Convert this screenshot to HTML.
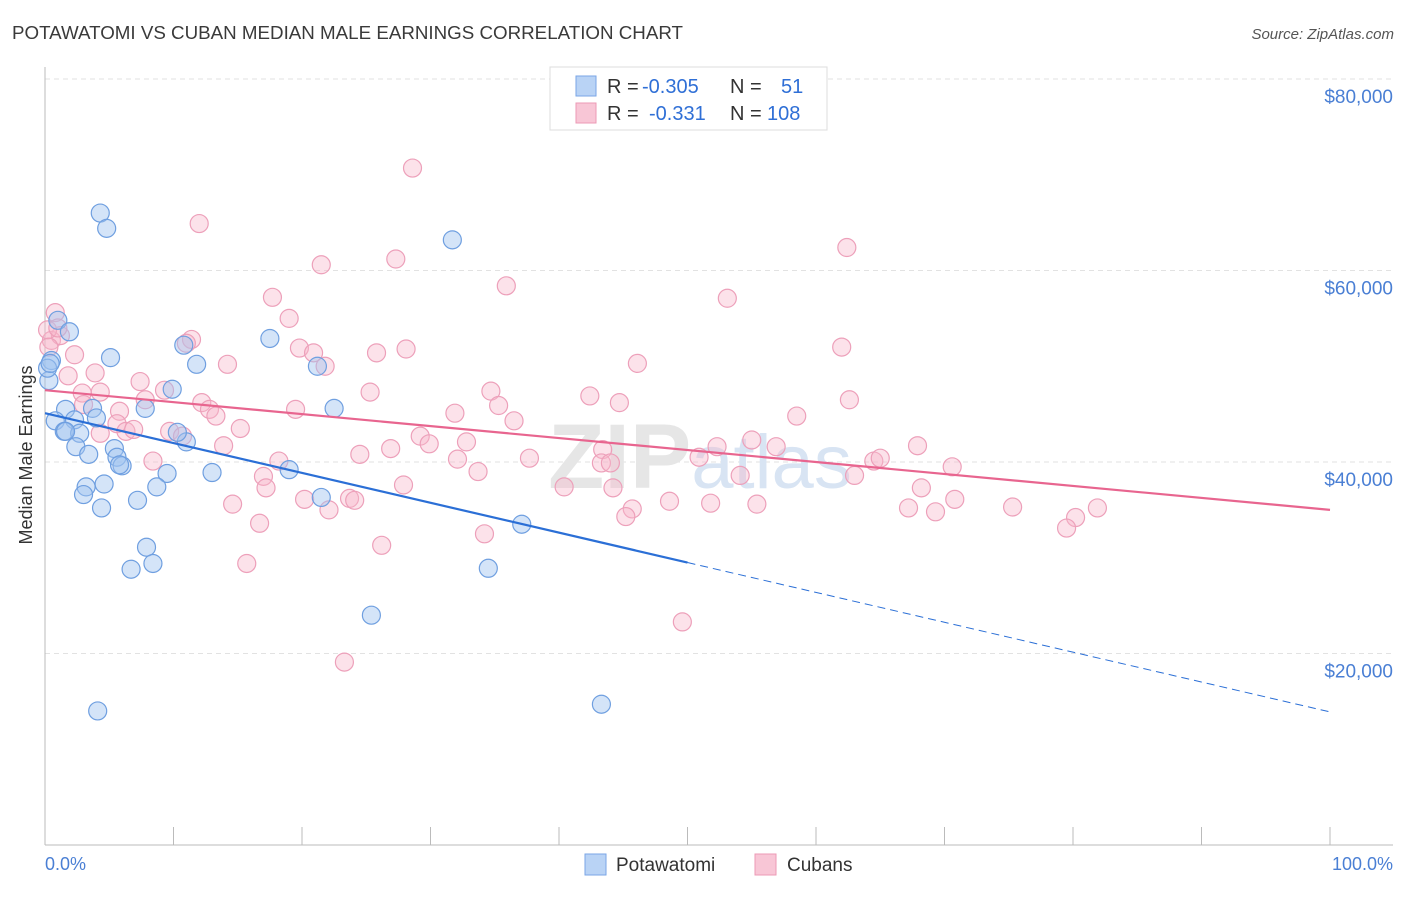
<!DOCTYPE html>
<html><head><meta charset="utf-8"><style>
body{margin:0;background:#fff;font-family:"Liberation Sans",sans-serif}
svg text{font-family:"Liberation Sans",sans-serif}
</style></head><body>
<svg id="chart" width="1406" height="892" viewBox="0 0 1406 892" xmlns="http://www.w3.org/2000/svg">
<text x="12" y="39" font-size="18.5" fill="#3a3a3a" textLength="671" lengthAdjust="spacingAndGlyphs">POTAWATOMI VS CUBAN MEDIAN MALE EARNINGS CORRELATION CHART</text>
<text x="1394" y="39" font-size="15" fill="#555" text-anchor="end" font-style="italic">Source: ZipAtlas.com</text>
<g id="grid"></g>
<text x="700" y="488" font-size="92" fill="#e6e6e6" text-anchor="middle" font-weight="bold">ZIP<tspan font-weight="normal" fill="#d8e4f3" font-size="76">atlas</tspan></text>
<g id="axes"></g>
<g id="pink"></g>
<g id="blue"></g>
<g id="trends"></g>
<text x="32" y="455" font-size="18" fill="#333" text-anchor="middle" transform="rotate(-90 32 455)">Median Male Earnings</text>
<text x="45" y="870" font-size="18" fill="#4a7fd4">0.0%</text>
<text x="1393" y="870" font-size="18" fill="#4a7fd4" text-anchor="end">100.0%</text>
<g>
<rect x="550" y="67" width="277" height="63" fill="#fff" stroke="#ddd"/>
<rect x="576" y="76" width="20" height="20" fill="#b9d3f5" stroke="#7aa6e6"/>
<rect x="576" y="103" width="20" height="20" fill="#f8c6d6" stroke="#ec9ab5"/>
<text x="607" y="93" font-size="20" fill="#333">R = <tspan x="642" fill="#2f6fd6">-0.305</tspan><tspan x="730">N = </tspan><tspan x="781" fill="#2f6fd6">51</tspan></text>
<text x="607" y="120" font-size="20" fill="#333">R = <tspan x="649" fill="#2f6fd6">-0.331</tspan><tspan x="730">N = </tspan><tspan x="767" fill="#2f6fd6">108</tspan></text>
</g>
<g>
<rect x="585" y="854" width="21" height="21" fill="#b9d3f5" stroke="#7aa6e6"/>
<text x="616" y="871" font-size="19" fill="#333">Potawatomi</text>
<rect x="755" y="854" width="21" height="21" fill="#f8c6d6" stroke="#ec9ab5"/>
<text x="787" y="871" font-size="19" fill="#333">Cubans</text>
</g>
</svg>
<script>
const yTicks=[20000,40000,60000,80000];
const yTickLabels=["$20,000","$40,000","$60,000","$80,000"];
const xTicks=[0,10,20,30,40,50,60,70,80,90,100];
const blueX=[4.3,4.8,31.7,17.5,1.0,1.9,0.5,5.1,10.8,11.8,21.2,0.3,9.9,7.8,1.6,3.7,4.0,22.5,2.3,0.8,1.5,2.7,2.4,5.4,3.4,5.6,6.0,19.0,13.0,9.5,11.0,10.3,4.6,3.2,3.0,8.7,7.2,21.5,4.4,37.1,7.9,6.7,8.4,34.5,25.4,4.1,43.3,0.2,5.8,1.6,0.4];
const blueY=[66.0,64.4,63.2,52.9,54.8,53.6,50.6,50.9,52.2,50.2,50.0,48.5,47.6,45.6,45.5,45.6,44.6,45.6,44.4,44.3,43.2,43.0,41.6,41.4,40.8,40.5,39.6,39.2,38.9,38.8,42.1,43.1,37.7,37.4,36.6,37.4,36.0,36.3,35.2,33.5,31.1,28.8,29.4,28.9,24.0,14.0,14.7,49.8,39.7,43.2,50.3];
const pinkX=[0.8,0.5,2.3,1.2,28.6,12.0,62.4,21.5,27.3,35.9,53.1,17.7,19.0,11.4,11.0,19.8,20.9,21.8,25.8,28.1,14.2,46.1,62.0,7.4,9.3,1.8,3.9,2.9,4.3,25.3,34.7,42.4,44.7,62.6,5.8,7.8,12.2,12.8,13.3,19.5,35.3,31.9,36.5,58.5,5.6,6.3,6.9,15.2,9.7,10.7,13.9,29.2,29.9,32.8,26.9,32.1,37.7,43.4,52.3,55.0,56.9,50.9,67.9,70.6,24.5,8.4,18.2,43.3,44.0,64.5,65.0,33.7,54.1,17.0,27.9,17.2,40.4,44.2,68.2,20.2,23.7,24.1,48.6,51.8,55.4,67.2,69.3,70.8,75.3,81.9,80.2,79.5,14.6,16.7,22.1,45.7,45.2,34.2,26.2,15.7,49.6,23.3,63.0,0.2,4.3,1.0,0.3,3.0];
const pinkY=[55.6,52.7,51.2,53.2,70.7,64.9,62.4,60.6,61.2,58.4,57.1,57.2,55.0,52.8,52.4,51.9,51.4,50.0,51.4,51.8,50.2,50.3,52.0,48.4,47.5,49.0,49.3,47.2,47.3,47.3,47.4,46.9,46.2,46.5,45.3,46.5,46.2,45.5,44.8,45.5,45.9,45.1,44.3,44.8,44.0,43.2,43.4,43.5,43.2,42.7,41.7,42.7,41.9,42.1,41.4,40.3,40.4,41.3,41.6,42.3,41.6,40.5,41.7,39.5,40.8,40.1,40.1,39.9,39.9,40.1,40.4,39.0,38.6,38.5,37.6,37.3,37.4,37.3,37.3,36.1,36.2,36.0,35.9,35.7,35.6,35.2,34.8,36.1,35.3,35.2,34.2,33.1,35.6,33.6,35.0,35.1,34.3,32.5,31.3,29.4,23.3,19.1,38.6,53.8,43.0,54.0,52.0,46.0];
const blueTrend=[45.1,13.9];
const blueSolidEnd=50;
const pinkTrend=[47.5,35.0];
const NS="http://www.w3.org/2000/svg";
const X0=45,X1=1330,Y0=845,PX_PER_K=191.5/20;
const sx=v=>X0+(X1-X0)*v/100;
const sy=v=>Y0-v*PX_PER_K;
function mk(tag,attrs,parent){const e=document.createElementNS(NS,tag);for(const k in attrs)e.setAttribute(k,attrs[k]);parent.appendChild(e);return e;}
const grid=document.getElementById('grid');
yTicks.forEach((t,i)=>{
  const l=mk('line',{x1:X0,x2:1393,y1:sy(t/1000),y2:sy(t/1000),stroke:'#e2e2e2','stroke-dasharray':'5,4'},grid);
  
  
  const tx=mk('text',{x:1393,y:sy(t/1000)+24,'font-size':19,fill:'#4a7fd4','text-anchor':'end'},grid);
  tx.textContent=yTickLabels[i];
  
  
});
const axes=document.getElementById('axes');
mk('line',{x1:X0,x2:X0,y1:67,y2:Y0,stroke:'#bbb'},axes);
mk('line',{x1:X0,x2:1393,y1:Y0,y2:Y0,stroke:'#bbb'},axes);
xTicks.forEach(t=>{
  const l=mk('line',{x1:sx(t),x2:sx(t),y1:827,y2:Y0,stroke:'#bbb'},axes);
  
  
});
function dots(xs,ys,g,fill,stroke,name){
  xs.forEach((x,i)=>{
    const c=mk('circle',{cx:sx(x),cy:sy(ys[i]),r:9,fill:fill,stroke:stroke,'stroke-width':1.2},g);
    
    
  });
}
dots(pinkX,pinkY,document.getElementById('pink'),'rgba(248,182,203,0.4)','#eda0ba','cubans-point');
dots(blueX,blueY,document.getElementById('blue'),'rgba(160,196,240,0.45)','#6f9fe0','potawatomi-point');
const tr=document.getElementById('trends');
const bAt=x=>blueTrend[0]+(blueTrend[1]-blueTrend[0])*x/100;
const pAt=x=>pinkTrend[0]+(pinkTrend[1]-pinkTrend[0])*x/100;
let l=mk('line',{x1:sx(0),y1:sy(pAt(0)),x2:sx(100),y2:sy(pAt(100)),stroke:'#e8658f','stroke-width':2.2},tr);


l=mk('line',{x1:sx(0),y1:sy(bAt(0)),x2:sx(blueSolidEnd),y2:sy(bAt(blueSolidEnd)),stroke:'#2b6fd6','stroke-width':2.2},tr);


l=mk('line',{x1:sx(blueSolidEnd),y1:sy(bAt(blueSolidEnd)),x2:sx(100),y2:sy(bAt(100)),stroke:'#2b6fd6','stroke-width':1,'stroke-dasharray':'8,5'},tr);


</script>
</body></html>
